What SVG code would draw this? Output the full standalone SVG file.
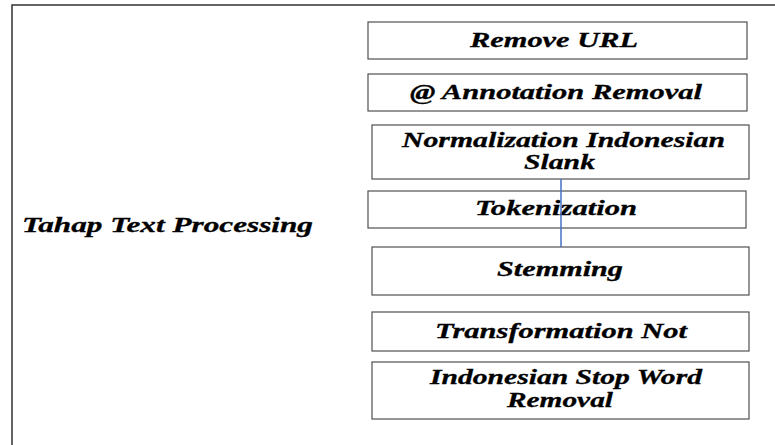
<svg xmlns="http://www.w3.org/2000/svg" width="775" height="445" viewBox="0 0 775 445">
<style>
.box{fill:#fff;stroke:#505050;stroke-width:1.2}
.t{font-family:"Liberation Serif","Times New Roman",serif;font-weight:bold;font-style:italic;font-size:21px;fill:#000;stroke:#000;stroke-width:0.3}
.frame{stroke:#333;stroke-width:1.5;fill:none}
.conn{stroke:#4472C4;stroke-width:1.5;fill:none}
</style>
<rect x="0" y="0" width="775" height="445" fill="#fff"/>
<path class="frame" d="M12 445 V5 H775"/>
<g id="label">
<text class="t" x="22" y="232" textLength="291" lengthAdjust="spacingAndGlyphs">Tahap Text Processing</text>
</g>
<g id="n1"><rect class="box" x="368" y="22" width="379" height="37"/>
<text class="t" x="470" y="47" textLength="168" lengthAdjust="spacingAndGlyphs">Remove URL</text></g>
<g id="n2"><rect class="box" x="368" y="74" width="379" height="37"/>
<text class="t" x="410" y="99" textLength="292" lengthAdjust="spacingAndGlyphs">@ Annotation Removal</text></g>
<g id="n3"><rect class="box" x="372" y="125" width="377" height="54"/>
<text class="t" x="402" y="147" textLength="323" lengthAdjust="spacingAndGlyphs">Normalization Indonesian</text>
<text class="t" x="524" y="169" textLength="71" lengthAdjust="spacingAndGlyphs">Slank</text></g>
<g id="n4"><rect class="box" x="368" y="191" width="378" height="37"/>
<text class="t" x="475" y="215" textLength="162" lengthAdjust="spacingAndGlyphs">Tokenization</text></g>
<g id="n5"><rect class="box" x="372" y="247" width="377" height="48"/>
<text class="t" x="497" y="276" textLength="126" lengthAdjust="spacingAndGlyphs">Stemming</text></g>
<g id="n6"><rect class="box" x="372" y="312" width="377" height="39"/>
<text class="t" x="435" y="338" textLength="252" lengthAdjust="spacingAndGlyphs">Transformation Not</text></g>
<g id="n7"><rect class="box" x="372" y="362" width="377" height="57"/>
<text class="t" x="430" y="384" textLength="272" lengthAdjust="spacingAndGlyphs">Indonesian Stop Word</text>
<text class="t" x="507" y="407" textLength="106" lengthAdjust="spacingAndGlyphs">Removal</text></g>
<g id="connectors">
<line class="conn" x1="561" y1="179" x2="561" y2="247"/>
</g>
</svg>
